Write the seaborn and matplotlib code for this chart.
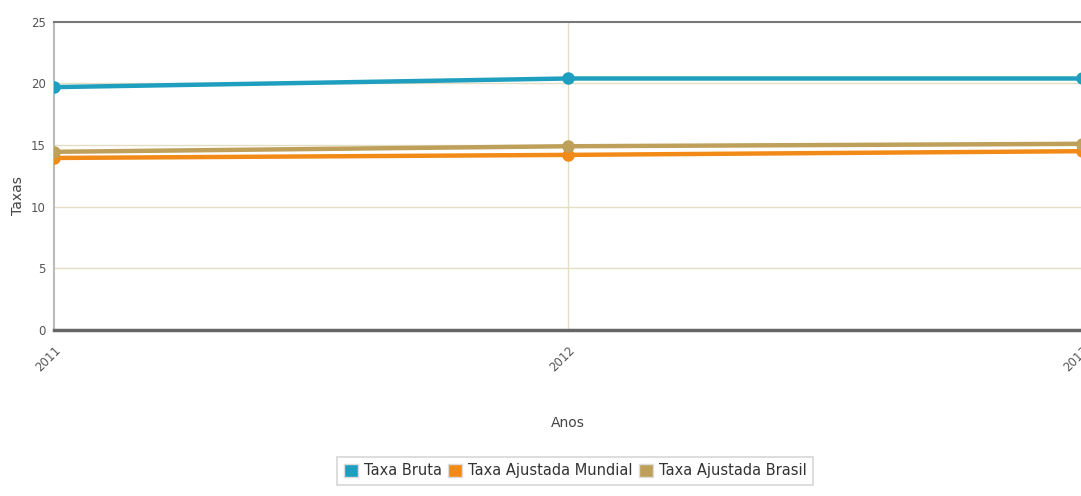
import matplotlib
matplotlib.use("Agg")
import matplotlib.pyplot as plt
import seaborn as sns
import pandas as pd

anos = [2011, 2012, 2013]
taxa_bruta = [19.7, 20.4, 20.4]
taxa_mundial = [13.95, 14.2, 14.5]
taxa_brasil = [14.45, 14.9, 15.1]
series_names = ["Taxa Bruta", "Taxa Ajustada Mundial", "Taxa Ajustada Brasil"]
colors = ["#1f9fbf", "#f28a17", "#bfa05a"]
y_ticks = [0, 5, 10, 15, 20, 25]

df = pd.DataFrame({
    "Anos": anos * 3,
    "Taxas": taxa_bruta + taxa_mundial + taxa_brasil,
    "Serie": [s for s in series_names for _ in anos],
})

sns.set_theme(style="white")
plt.rcParams["font.family"] = ["DejaVu Sans"]

fig = plt.figure(figsize=(10.81, 4.96), dpi=100)
ax = fig.add_axes([0.05, 0.335, 0.951, 0.621])

sns.lineplot(data=df, x="Anos", y="Taxas", hue="Serie", palette=colors,
             hue_order=series_names, marker="o", markersize=9, linewidth=3.2,
             markeredgewidth=0, ax=ax, legend=False, zorder=3)

ax.set_xlim(2011, 2013)
ax.set_ylim(0, 25)
ax.set_yticks(y_ticks)
ax.set_xticks(anos)
ax.set_xticklabels([str(a) for a in anos], rotation=45, ha="right",
                   rotation_mode="anchor", color="#555555", fontsize=8.5)
ax.set_yticklabels([str(v) for v in y_ticks], color="#555555", fontsize=8.5)
ax.tick_params(axis="y", length=4, color="#999999", pad=2)
ax.tick_params(axis="x", length=0, pad=10)

for v in y_ticks[1:-1]:
    ax.axhline(v, color="#e3dfc4", linewidth=1, zorder=1)
ax.axvline(2012, color="#e3dfc4", linewidth=1, zorder=1)

ax.spines["right"].set_visible(False)
ax.spines["top"].set_color("#777777")
ax.spines["top"].set_linewidth(1.5)
ax.spines["bottom"].set_color("#666666")
ax.spines["bottom"].set_linewidth(2.5)
ax.spines["left"].set_color("#bbbbbb")
ax.spines["left"].set_linewidth(1.5)

ax.set_xlabel("Anos", fontsize=10, color="#444444", labelpad=30)
ax.set_ylabel("")
fig.text(18 / 1081, 1 - 196 / 496, "Taxas", rotation=90, ha="center", va="center",
         fontsize=10, color="#444444")

handles = [plt.Rectangle((0, 0), 1, 1, facecolor=c, edgecolor="#dddddd") for c in colors]
leg = fig.legend(handles, series_names, loc="center", bbox_to_anchor=(0.532, 0.051),
                 ncol=3, frameon=True, fontsize=10.5, handlelength=1.0, handleheight=1.0,
                 handletextpad=0.4, columnspacing=0.4, borderpad=0.45, fancybox=False)
leg.get_frame().set_edgecolor("#cccccc")
leg.get_frame().set_linewidth(1.2)
for t in leg.get_texts():
    t.set_color("#333333")

fig.savefig("out.png", dpi=100)
